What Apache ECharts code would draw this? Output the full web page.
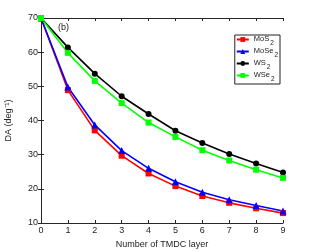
<!DOCTYPE html>
<html><head><meta charset="utf-8">
<script src="https://cdn.jsdelivr.net/npm/echarts@6/dist/echarts.min.js"></script>
<style>html,body{margin:0;padding:0;background:#fff}#c{width:313px;height:251px}</style>
</head><body><div id="c"></div>
<script>
const layers = [0,1,2,3,4,5,6,7,8,9];
const mos2  = [70, 48.9, 37.1, 29.7, 24.5, 20.8, 17.9, 15.9, 14.3, 12.9];
const mose2 = [70, 49.8, 38.7, 31.2, 26.0, 22.1, 19.0, 16.8, 15.1, 13.5];
const ws2   = [70, 61.4, 53.7, 47.1, 41.9, 37.0, 33.4, 30.2, 27.4, 24.8];
const wse2  = [70, 59.8, 51.6, 45.1, 39.4, 35.2, 31.3, 28.3, 25.6, 23.2];
const seriesNames = ['MoS2','MoSe2','WS2','WSe2'];
const legendLabels = {MoS2:['MoS','2'], MoSe2:['MoSe','2'], WS2:['WS','2'], WSe2:['WSe','2']};
const xTicks = {min:0, max:9, step:1};
const yTicks = {min:10, max:70, step:10};

const font = 'Liberation Sans, Arial, sans-serif';
const axisColor = '#262626';
const chart = echarts.init(document.getElementById('c'), null, {renderer:'canvas'});
function mk(name, data, color, symbol, size){
  return {name, type:'line', data: layers.map((x,i)=>[x,data[i]]), xAxisIndex:0, yAxisIndex:0,
    symbol, symbolSize:size, showSymbol:true, lineStyle:{color, width:1.6}, itemStyle:{color},
    emphasis:{disabled:true}, animation:false};
}
const axCommon = {
  axisLine:{show:true, lineStyle:{color:axisColor, width:1}},
  axisTick:{show:true, inside:true, length:3, lineStyle:{color:axisColor}},
  splitLine:{show:false}
};
chart.setOption({
  animation:false,
  textStyle:{fontFamily:font},
  title:{text:'(b)', left:53, top:18, textStyle:{fontSize:9, fontWeight:'normal', color:'#222', fontFamily:font}},
  grid:{left:41, right:30, top:18, bottom:28, containLabel:false, outerBoundsMode:'none'},
  legend:{
    data:seriesNames, orient:'vertical', right:33, top:35,
    backgroundColor:'#fff', borderColor:'#222', borderWidth:1, padding:[0,2,1,1],
    itemGap:0, itemWidth:12, itemHeight:6,
    formatter: n => '{a|'+legendLabels[n][0]+'}{s|'+legendLabels[n][1]+'}',
    textStyle:{fontFamily:font, color:'#222',
      rich:{a:{fontSize:7.5, fontFamily:font, color:'#222', lineHeight:9, verticalAlign:'top'},
            s:{fontSize:6.5, fontFamily:font, color:'#222', lineHeight:7, padding:[5,0,0,1], verticalAlign:'top'}}}
  },
  xAxis:[
    Object.assign({type:'value', min:xTicks.min, max:xTicks.max, interval:xTicks.step, position:'bottom',
      name:'Number of TMDC layer', nameLocation:'middle', nameGap:14,
      nameTextStyle:{fontSize:9, color:'#222', fontFamily:font},
      axisLabel:{fontSize:9, color:'#222', margin:3, fontFamily:font}}, axCommon),
    Object.assign({type:'value', min:xTicks.min, max:xTicks.max, interval:xTicks.step, position:'top',
      axisLabel:{show:false}}, axCommon)
  ],
  yAxis:[
    Object.assign({type:'value', min:yTicks.min, max:yTicks.max, interval:yTicks.step, position:'left',
      name:'DA (deg\u207B\u00B9)', nameLocation:'middle', nameGap:28, nameRotate:90,
      nameTextStyle:{fontSize:9, color:'#222', fontFamily:font},
      axisLabel:{fontSize:9, color:'#222', margin:3, fontFamily:font}}, axCommon),
    Object.assign({type:'value', min:yTicks.min, max:yTicks.max, interval:yTicks.step, position:'right',
      axisLabel:{show:false}}, axCommon)
  ],
  series:[
    mk('MoS2', mos2, '#ff0000', 'rect', 6),
    mk('MoSe2', mose2, '#0000ff', 'triangle', 7),
    mk('WS2', ws2, '#000000', 'circle', 6),
    mk('WSe2', wse2, '#00ff00', 'rect', 6)
  ]
});
</script></body></html>
